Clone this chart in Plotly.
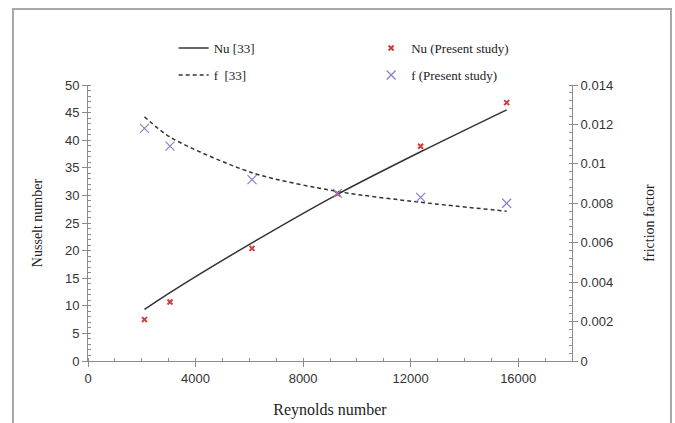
import plotly.graph_objects as go

# Data
reynolds = [2100, 3050, 6100, 9280, 12370, 15570]
nu_ref = [9.35, 12.4, 21.4, 30.2, 37.9, 45.5]
f_ref = [0.01239, 0.01136, 0.00955, 0.00860, 0.00805, 0.00760]
nu_present = [7.5, 10.7, 20.4, 30.3, 38.9, 46.8]
f_present = [0.0118, 0.0109, 0.0092, 0.0085, 0.0083, 0.0080]

serif = "Liberation Serif"
sans = "Liberation Sans"

fig = go.Figure()
fig.add_trace(go.Scatter(x=reynolds, y=nu_ref, mode="lines", name="Nu [33]",
                         line=dict(color="#333333", width=1.5, shape="spline", smoothing=0.8),
                         legend="legend", showlegend=True))
fig.add_trace(go.Scatter(x=reynolds, y=f_ref, mode="lines", name="f  [33]", yaxis="y2",
                         line=dict(color="#333333", width=1.5, dash="4px,3px", shape="spline", smoothing=0.8),
                         legend="legend2", showlegend=True))
fig.add_trace(go.Scatter(x=reynolds, y=nu_present, mode="markers", name="Nu (Present study)",
                         marker=dict(symbol="x-thin", size=5, line=dict(color="#d03a3a", width=2)),
                         legend="legend3", showlegend=True))
fig.add_trace(go.Scatter(x=reynolds, y=f_present, mode="markers", name="f (Present study)", yaxis="y2",
                         marker=dict(symbol="x-thin", size=9, line=dict(color="#8a7fc8", width=1.2)),
                         legend="legend4", showlegend=True))

def leg(x, y):
    return dict(x=x, y=y, xanchor="left", yanchor="middle", bgcolor="rgba(0,0,0,0)",
                font=dict(family=serif, size=13, color="#222"), itemwidth=30)

axis_common = dict(showgrid=False, zeroline=False, showline=True, linecolor="#8c8c8c", linewidth=1,
                   ticks="outside", ticklen=5, tickcolor="#8c8c8c", automargin=False,
                   tickfont=dict(family=sans, size=13, color="#333"))

fig.update_layout(
    width=675, height=423,
    showlegend=True,
    margin=dict(l=88, r=103, t=85, b=62, autoexpand=False),
    paper_bgcolor="white", plot_bgcolor="white",
    xaxis=dict(range=[0, 18000], dtick=4000, tick0=0, tickformat="d",
               minor=dict(dtick=1000, ticks="inside", ticklen=3, tickcolor="#8c8c8c"),
               title=dict(text="Reynolds number", font=dict(family=serif, size=16, color="#222"), standoff=19),
               **axis_common),
    yaxis=dict(range=[0, 50], dtick=5, tick0=0,
               minor=dict(dtick=1, ticks="inside", ticklen=3, tickcolor="#8c8c8c"),
               title=dict(text="Nusselt number", font=dict(family=serif, size=14, color="#222"), standoff=19),
               **axis_common),
    yaxis2=dict(range=[0, 0.014], dtick=0.002, tick0=0, overlaying="y", side="right",
                minor=dict(dtick=0.0004, ticks="inside", ticklen=3, tickcolor="#8c8c8c"),
                title=dict(text="friction factor", font=dict(family=serif, size=14, color="#222"), standoff=32),
                **axis_common),
    legend=leg(0.177, 1.134),
    legend2=leg(0.177, 1.036),
    legend3=leg(0.585, 1.134),
    legend4=leg(0.585, 1.036),
    shapes=[dict(type="rect", xref="paper", yref="paper", x0=-0.155, x1=1.2045, y0=-0.3, y1=1.275,
                 line=dict(color="#a8a8a8", width=2), fillcolor="rgba(0,0,0,0)", layer="below")],
)

fig.write_html("out.html", config={"displayModeBar": False},
               post_script="document.body.style.margin='0';")
